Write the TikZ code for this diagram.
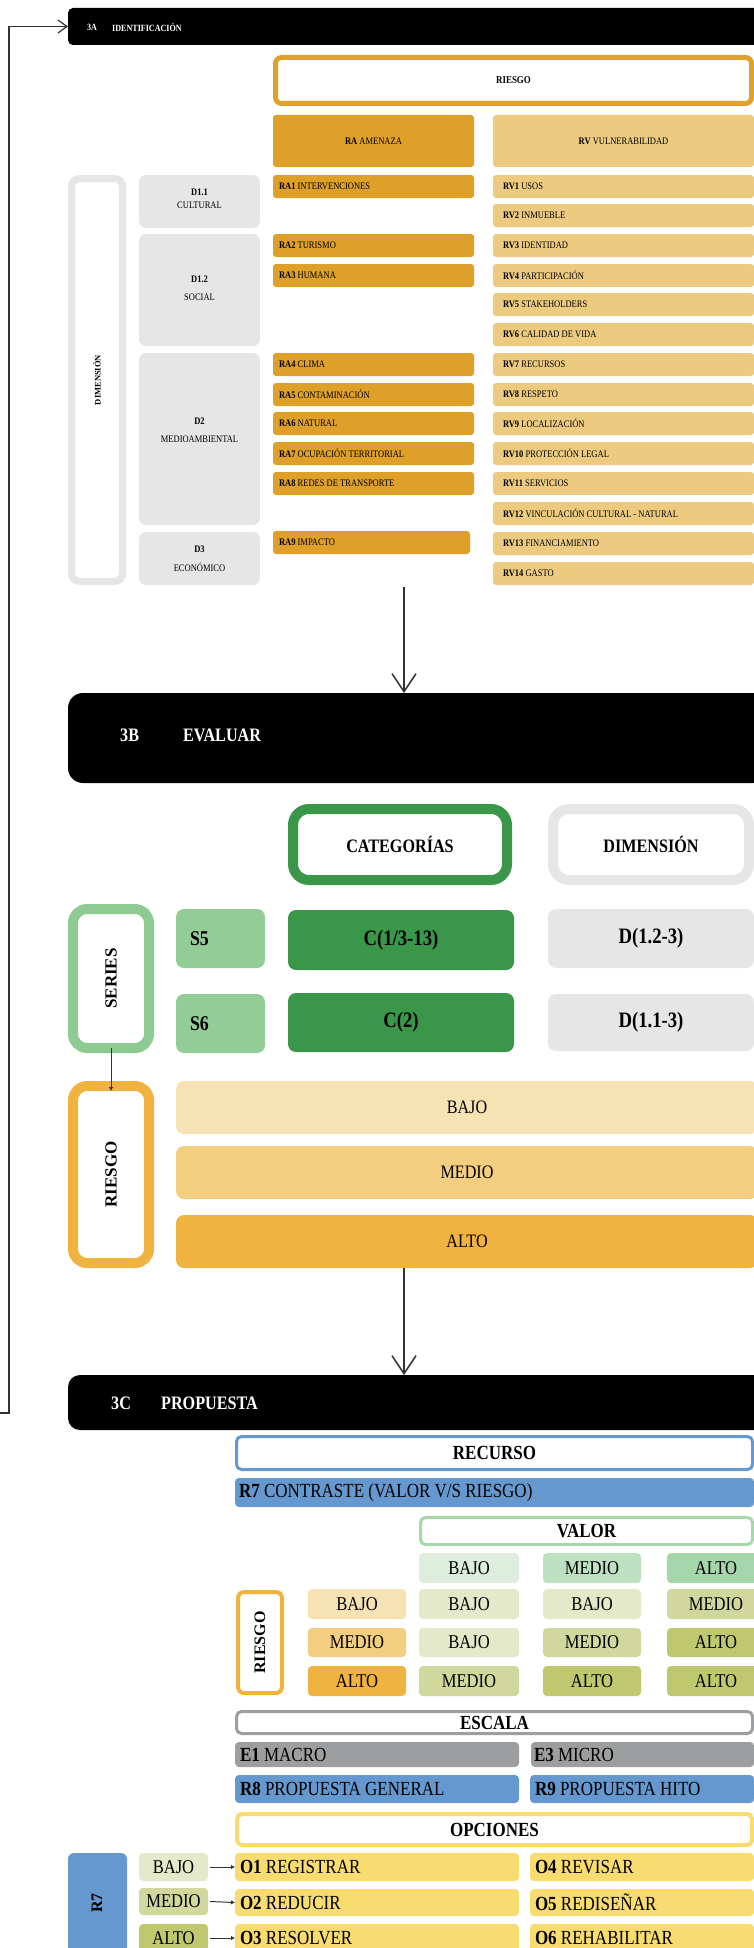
\documentclass[tikz,border=0pt]{standalone}
\usepackage{fontspec}
\setmainfont{Liberation Serif}[FakeStretch=0.85]
\newfontfamily\widefont{Liberation Serif}
\usetikzlibrary{arrows.meta,calc}
\newcommand\fs[1]{\fontsize{#1}{#1}\selectfont}
\newcommand\fsb[2]{\fontsize{#1}{#2}\selectfont}
\definecolor{raC}{HTML}{DFA02A}
\definecolor{rvC}{HTML}{ECCB80}
\definecolor{riesgoA}{HTML}{E1A12D}
\definecolor{greyC}{HTML}{E6E6E6}
\definecolor{gDark}{HTML}{3A974A}
\definecolor{gLight}{HTML}{92CD98}
\definecolor{gSer}{HTML}{8DCB93}
\definecolor{rBajo}{HTML}{F7E2B3}
\definecolor{rMedio}{HTML}{F3CD80}
\definecolor{rAlto}{HTML}{F0B33F}
\definecolor{blueC}{HTML}{6598CF}
\definecolor{vBajo}{HTML}{DDEEDE}
\definecolor{vMedio}{HTML}{BEE1C2}
\definecolor{vAlto}{HTML}{A4D6AA}
\definecolor{vLine}{HTML}{A8D7AC}
\definecolor{mBajo}{HTML}{E3E9C9}
\definecolor{mMedio}{HTML}{D1D89E}
\definecolor{mAlto}{HTML}{BFC76F}
\definecolor{eGrey}{HTML}{9C9E9F}
\definecolor{yel}{HTML}{F9DC6F}
\definecolor{lineC}{HTML}{333333}
% filled box with centred text
\newcommand\FB[7]{\node[#2,anchor=north west,inner sep=0pt,outer sep=0pt,minimum width=#5,minimum height=#6] (#1) at (#3,#4) {#7};}
% filled box with left text
\newcommand\LB[8]{\node[#2,anchor=north west,inner sep=0pt,outer sep=0pt,minimum width=#5,minimum height=#6] (#1) at (#3,#4) {};
  \node[#2,draw=none,fill=none,anchor=west,inner sep=0pt,outer sep=0pt,minimum width=0pt,minimum height=0pt] (#1t) at ([xshift=#7pt]#1.west) {#8};}
\begin{document}
\begin{tikzpicture}[x=1pt,y=-1pt,
  bar/.style={fill=black,text=white},
  bartext/.style={text=white,anchor=west,inner sep=0pt},
  ra/.style={fill=raC,rounded corners=3pt,font=\fs{10}},
  rv/.style={fill=rvC,rounded corners=3pt,font=\fs{10}},
  dbox/.style={fill=greyC,rounded corners=7pt},
  dtext/.style={align=center,inner sep=0pt},
  olA/.style={draw=riesgoA,line width=5pt,fill=white,rounded corners=6pt,font=\bfseries\fs{10.5}},
  olDim/.style={draw=greyC,line width=7pt,fill=white,rounded corners=8pt},
  olCat/.style={draw=gDark,line width=10pt,fill=white,rounded corners=16pt,font=\bfseries\fs{19}},
  olDimB/.style={draw=greyC,line width=10pt,fill=white,rounded corners=16pt,font=\bfseries\fs{19}},
  olSer/.style={draw=gSer,line width=10pt,fill=white,rounded corners=14pt},
  olRB/.style={draw=rAlto,line width=10pt,fill=white,rounded corners=14pt},
  sbox/.style={fill=gLight,rounded corners=8pt,font=\bfseries\fs{21}},
  cbox/.style={fill=gDark,rounded corners=8pt,font=\bfseries\fs{22}},
  dgbox/.style={fill=greyC,rounded corners=8pt,font=\bfseries\fs{22}},
  rbar/.style={rounded corners=8pt,font=\fs{19}},
  rot/.style={rotate=90,inner sep=0pt,font=\widefont\bfseries\fs{16}},
  thin/.style={line width=3pt,fill=white,rounded corners=5pt,font=\bfseries\fs{20}},
  cell/.style={rounded corners=4pt,font=\fs{19.5}},
  lbox/.style={rounded corners=4pt,font=\fs{20}},
  bigarrow/.style={draw=lineC,line width=1.5pt,-{Straight Barb[length=18pt,width=24pt,line width=1.5pt]}},
  fbarrow/.style={draw=lineC,line width=1.2pt,-{Straight Barb[length=9pt,width=13pt,line width=1.2pt]}},
  smallarrow/.style={draw=lineC,line width=1pt,-{Latex[length=4pt,width=4.5pt]}}
]
\useasboundingbox (0,0) rectangle (754,1948);
\clip (0,0) rectangle (754,1948);

% ================= 3A =================
\FB{bar3a}{bar,rounded corners=5pt}{68}{8}{700}{37}{}
\node[bartext,font=\bfseries\fs{9.5}] (t3a1) at (87,27) {3A};
\node[bartext,font=\bfseries\fs{9.5}] (t3a2) at (112,27) {IDENTIFICACIÓN};

\FB{riesgoA}{olA}{275.5}{57.5}{476}{46}{RIESGO}
\FB{rahead}{ra}{273}{115}{201}{52}{\textbf{RA} AMENAZA}
\FB{rvhead}{rv}{493}{115}{261}{52}{\textbf{RV} VULNERABILIDAD}

\FB{dimA}{olDim}{71.5}{178.5}{51}{403}{}
\node[rot,font=\widefont\bfseries\fs{8.5}] (dimAt) at (dimA.center) {DIMENSIÓN};

\FB{d11}{dbox}{139}{175}{121}{53}{}
\node[dtext,font={\fsb{10}{13}}] (d11t) at (199.5,199) {\textbf{D1.1}\\CULTURAL};
\FB{d12}{dbox}{139}{234}{121}{112}{}
\node[dtext,font={\fsb{10}{18}}] (d12t) at (199.5,288) {\textbf{D1.2}\\SOCIAL};
\FB{d2}{dbox}{139}{353}{121}{172}{}
\node[dtext,font={\fsb{10}{18}}] (d2t) at (199.5,430) {\textbf{D2}\\MEDIOAMBIENTAL};
\FB{d3}{dbox}{139}{532}{121}{53}{}
\node[dtext,font={\fsb{10}{19}}] (d3t) at (199.5,558.5) {\textbf{D3}\\ECONÓMICO};

\LB{ra1}{ra}{273}{175}{201}{23}{6}{\textbf{RA1} INTERVENCIONES}
\LB{ra2}{ra}{273}{234}{201}{23}{6}{\textbf{RA2} TURISMO}
\LB{ra3}{ra}{273}{264}{201}{23}{6}{\textbf{RA3} HUMANA}
\LB{ra4}{ra}{273}{353}{201}{23}{6}{\textbf{RA4} CLIMA}
\LB{ra5}{ra}{273}{383}{201}{23}{6}{\textbf{RA5} CONTAMINACIÓN}
\LB{ra6}{ra}{273}{412}{201}{23}{6}{\textbf{RA6} NATURAL}
\LB{ra7}{ra}{273}{442}{201}{23}{6}{\textbf{RA7} OCUPACIÓN TERRITORIAL}
\LB{ra8}{ra}{273}{472}{201}{23}{6}{\textbf{RA8} REDES DE TRANSPORTE}
\LB{ra9}{ra}{273}{531}{197}{23}{6}{\textbf{RA9} IMPACTO}

\LB{rv1}{rv}{493}{175}{261}{23}{10}{\textbf{RV1} USOS}
\LB{rv2}{rv}{493}{204}{261}{23}{10}{\textbf{RV2} INMUEBLE}
\LB{rv3}{rv}{493}{234}{261}{23}{10}{\textbf{RV3} IDENTIDAD}
\LB{rv4}{rv}{493}{264}{261}{23}{10}{\textbf{RV4} PARTICIPACIÓN}
\LB{rv5}{rv}{493}{293}{261}{23}{10}{\textbf{RV5} STAKEHOLDERS}
\LB{rv6}{rv}{493}{323}{261}{23}{10}{\textbf{RV6} CALIDAD DE VIDA}
\LB{rv7}{rv}{493}{353}{261}{23}{10}{\textbf{RV7} RECURSOS}
\LB{rv8}{rv}{493}{383}{261}{23}{10}{\textbf{RV8} RESPETO}
\LB{rv9}{rv}{493}{412}{261}{23}{10}{\textbf{RV9} LOCALIZACIÓN}
\LB{rv10}{rv}{493}{442}{261}{23}{10}{\textbf{RV10} PROTECCIÓN LEGAL}
\LB{rv11}{rv}{493}{472}{261}{23}{10}{\textbf{RV11} SERVICIOS}
\LB{rv12}{rv}{493}{502}{261}{23}{10}{\textbf{RV12} VINCULACIÓN CULTURAL - NATURAL}
\LB{rv13}{rv}{493}{532}{261}{23}{10}{\textbf{RV13} FINANCIAMIENTO}
\LB{rv14}{rv}{493}{562}{261}{23}{10}{\textbf{RV14} GASTO}

% ================= 3B =================
\FB{bar3b}{bar,rounded corners=15pt}{68}{693}{700}{90}{}
\node[bartext,font=\bfseries\fs{19}] (t3b1) at (120,735) {3B};
\node[bartext,font=\bfseries\fs{19}] (t3b2) at (183,735) {EVALUAR};

\coordinate (a1) at (404,587);
\draw[bigarrow] (a1) -- (a1 |- bar3b.north);

\FB{cat}{olCat}{293}{809}{214}{71}{CATEGORÍAS}
\FB{dimB}{olDimB}{553}{809}{196}{71}{DIMENSIÓN}

\FB{series}{olSer}{73}{909}{76}{139}{}
\node[rot,font=\widefont\bfseries\fs{17}] (seriest) at (series.center) {SERIES};

\LB{s5}{sbox}{176}{909}{89}{59}{14}{S5}
\LB{s6}{sbox}{176}{994}{89}{59}{14}{S6}
\FB{c1}{cbox}{288}{910}{226}{60}{C(1/3-13)}
\FB{c2}{cbox}{288}{993}{226}{59}{C(2)}
\FB{dd1}{dgbox}{548}{909}{206}{59}{D(1.2-3)}
\FB{dd2}{dgbox}{548}{994}{206}{57}{D(1.1-3)}

\FB{riesgoB}{olRB}{73}{1086}{76}{177}{}
\node[rot,font=\widefont\bfseries\fs{17}] (riesgoBt) at (riesgoB.center) {RIESGO};
\draw[smallarrow] (series.south) -- ([yshift=-5pt]riesgoB.north);

\FB{bajoB}{rbar,fill=rBajo}{176}{1081}{582}{53}{BAJO}
\FB{medioB}{rbar,fill=rMedio}{176}{1146}{582}{53}{MEDIO}
\FB{altoB}{rbar,fill=rAlto}{176}{1215}{582}{53}{ALTO}

% ================= 3C =================
\FB{bar3c}{bar,rounded corners=12pt}{68}{1375}{700}{55}{}
\node[bartext,font=\bfseries\fs{19}] (t3c1) at (111,1403) {3C};
\node[bartext,font=\bfseries\fs{19}] (t3c2) at (161,1403) {PROPUESTA};

\coordinate (b1) at (404,1268);
\draw[bigarrow] (b1) -- (b1 |- bar3c.north);

\coordinate (fb0) at (-5,1413);
\coordinate (fb1) at (9,1413);
\draw[fbarrow] (fb0) -- (fb1) -- (fb1 |- bar3a.west) -- (bar3a.west);

\FB{recurso}{thin,draw=blueC}{236.5}{1436.5}{516}{33}{RECURSO}
\LB{r7bar}{lbox,fill=blueC}{235}{1478}{519}{29}{4}{\textbf{R7} CONTRASTE (VALOR V/S RIESGO)}
\FB{valor}{thin,draw=vLine}{420.5}{1517.5}{332}{27}{VALOR}
\FB{vb}{cell,fill=vBajo}{419}{1553}{100}{30}{BAJO}
\FB{vm}{cell,fill=vMedio}{543}{1553}{98}{30}{MEDIO}
\FB{va}{cell,fill=vAlto}{667}{1553}{98}{30}{ALTO}

\FB{riesgoC}{draw=rAlto,line width=4pt,fill=white,rounded corners=6pt}{238}{1592}{44}{101}{}
\node[rot,font=\widefont\bfseries\fs{16}] (riesgoCt) at (riesgoC.center) {RIESGO};

\FB{rb}{cell,fill=rBajo}{308}{1589}{98}{30}{BAJO}
\FB{rm}{cell,fill=rMedio}{308}{1628}{98}{29}{MEDIO}
\FB{rh}{cell,fill=rAlto}{308}{1666}{98}{30}{ALTO}

\FB{m11}{cell,fill=mBajo}{419}{1589}{100}{30}{BAJO}
\FB{m12}{cell,fill=mBajo}{543}{1589}{98}{30}{BAJO}
\FB{m13}{cell,fill=mMedio}{667}{1589}{98}{30}{MEDIO}
\FB{m21}{cell,fill=mBajo}{419}{1628}{100}{29}{BAJO}
\FB{m22}{cell,fill=mMedio}{543}{1628}{98}{29}{MEDIO}
\FB{m23}{cell,fill=mAlto}{667}{1628}{98}{29}{ALTO}
\FB{m31}{cell,fill=mMedio}{419}{1666}{100}{30}{MEDIO}
\FB{m32}{cell,fill=mAlto}{543}{1666}{98}{30}{ALTO}
\FB{m33}{cell,fill=mAlto}{667}{1666}{98}{30}{ALTO}

\FB{escala}{thin,draw=eGrey}{236.5}{1711.5}{516}{22}{ESCALA}
\LB{e1}{lbox,fill=eGrey}{235}{1742}{284}{25}{5}{\textbf{E1} MACRO}
\LB{e3}{lbox,fill=eGrey}{531}{1742}{223}{25}{3}{\textbf{E3} MICRO}
\LB{r8}{lbox,fill=blueC}{235}{1775}{284}{28}{5}{\textbf{R8} PROPUESTA GENERAL}
\LB{r9}{lbox,fill=blueC}{530}{1775}{224}{28}{5}{\textbf{R9} PROPUESTA HITO}
\FB{opciones}{thin,line width=4pt,draw=yel}{237}{1814}{515}{31}{OPCIONES}

\FB{r7box}{fill=blueC,rounded corners=6pt}{68}{1853}{59}{110}{}
\node[rot,font=\widefont\bfseries\fs{16}] (r7t) at (97,1903) {R7};

\FB{lb}{cell,fill=mBajo}{139}{1853}{69}{28}{BAJO}
\FB{lm}{cell,fill=mMedio}{139}{1888}{69}{27}{MEDIO}
\FB{la}{cell,fill=mAlto}{139}{1924}{69}{28}{ALTO}

\LB{o1}{lbox,fill=yel}{235}{1853}{284}{28}{5}{\textbf{O1} REGISTRAR}
\LB{o2}{lbox,fill=yel}{235}{1889}{284}{27}{5}{\textbf{O2} REDUCIR}
\LB{o3}{lbox,fill=yel}{235}{1924}{284}{28}{5}{\textbf{O3} RESOLVER}
\LB{o4}{lbox,fill=yel}{530}{1853}{224}{28}{5}{\textbf{O4} REVISAR}
\LB{o5}{lbox,fill=yel}{530}{1889}{224}{27}{5}{\textbf{O5} REDISEÑAR}
\LB{o6}{lbox,fill=yel}{530}{1924}{224}{28}{5}{\textbf{O6} REHABILITAR}

\draw[smallarrow] ([xshift=2pt]lb.east) -- (o1.west);
\draw[smallarrow] ([xshift=2pt]lm.east) -- (o2.west);
\draw[smallarrow] ([xshift=2pt]la.east) -- (o3.west);
\end{tikzpicture}
\end{document}
